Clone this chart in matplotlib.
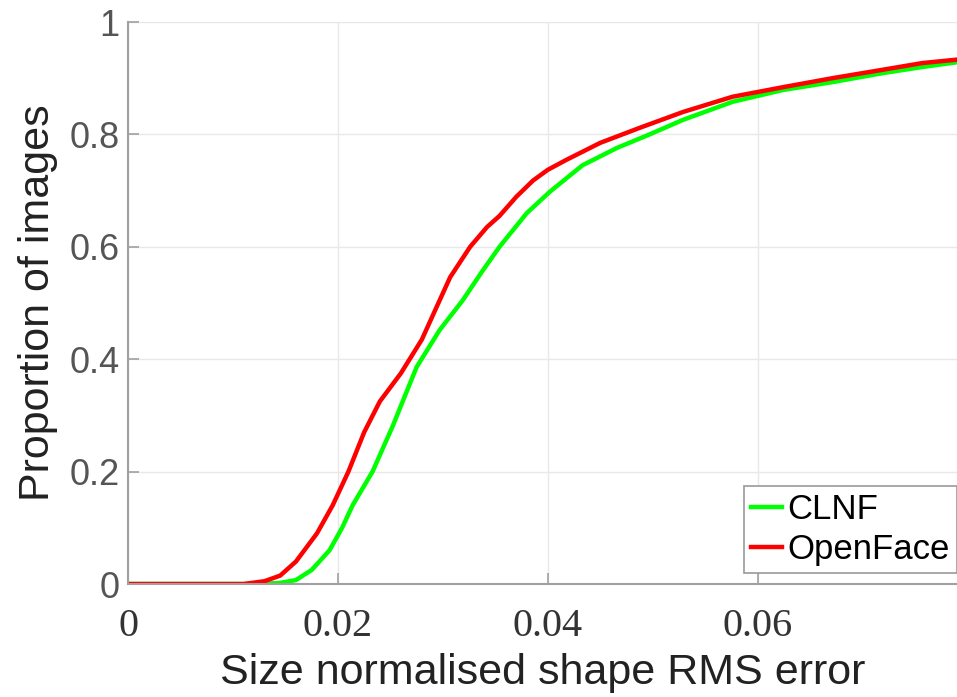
import numpy as np
import matplotlib.pyplot as plt

# error thresholds and cumulative proportion of images
err_clnf = [0.0, 0.0125, 0.0145, 0.016, 0.0175, 0.0192, 0.0204, 0.0214, 0.0233, 0.0252,
            0.0275, 0.0297, 0.0319, 0.0337, 0.0354, 0.038, 0.0402, 0.0433, 0.0466, 0.0497,
            0.0529, 0.0576, 0.0624, 0.0671, 0.0719, 0.0757, 0.080]
prop_clnf = [0.0, 0.0, 0.002, 0.007, 0.025, 0.06, 0.1, 0.14, 0.2, 0.28,
             0.386, 0.452, 0.505, 0.555, 0.60, 0.66, 0.698, 0.745, 0.776, 0.80,
             0.826, 0.858, 0.879, 0.893, 0.909, 0.92, 0.931]

err_of = [0.0, 0.011, 0.013, 0.0145, 0.016, 0.018, 0.0195, 0.021, 0.0225, 0.024,
          0.026, 0.028, 0.0297, 0.0307, 0.0326, 0.0342, 0.0354, 0.037, 0.0386, 0.040,
          0.0418, 0.045, 0.0488, 0.0529, 0.0576, 0.0624, 0.0671, 0.0719, 0.0757, 0.080]
prop_of = [0.0, 0.0, 0.005, 0.015, 0.04, 0.09, 0.14, 0.2, 0.27, 0.325,
           0.375, 0.435, 0.505, 0.546, 0.60, 0.635, 0.655, 0.689, 0.718, 0.737,
           0.755, 0.785, 0.812, 0.84, 0.867, 0.884, 0.90, 0.915, 0.927, 0.935]

xticks = [0, 0.02, 0.04, 0.06]
xtick_labels = ["0", "0.02", "0.04", "0.06"]
yticks = [0, 0.2, 0.4, 0.6, 0.8, 1]
ytick_labels = ["0", "0.2", "0.4", "0.6", "0.8", "1"]

fig = plt.figure(figsize=(9.57, 6.97), dpi=100)
ax = fig.add_axes([0.1338, 0.1621, 0.8662, 0.8063])

ax.plot(err_clnf, prop_clnf, color="#00ff00", lw=3.2, label="CLNF")
ax.plot(err_of, prop_of, color="#ff0000", lw=3.2, label="OpenFace")

ax.set_xlim(0, 0.079)
ax.set_ylim(0, 1)
ax.set_xticks(xticks)
ax.set_xticklabels(xtick_labels)
ax.set_yticks(yticks)
ax.set_yticklabels(ytick_labels)

ax.grid(True, color="#e8e8e8", lw=1)
ax.set_axisbelow(True)
for s in ["top", "right"]:
    ax.spines[s].set_visible(False)
for s in ["left", "bottom"]:
    ax.spines[s].set_color("#a0a0a0")
    ax.spines[s].set_linewidth(1.5)

ax.tick_params(axis="both", direction="in", length=8, color="#a0a0a0", width=1.2)
ax.tick_params(axis="x", labelsize=29, labelcolor="#333333", pad=17,
               labelfontfamily="Liberation Serif")
ax.tick_params(axis="y", labelsize=26, labelcolor="#555555", pad=6,
               labelfontfamily="Liberation Sans")

ax.set_xlabel("Size normalised shape RMS error", fontsize=31, family="Liberation Sans",
              color="#222222", labelpad=6)
ax.set_ylabel("Proportion of images", fontsize=31, family="Liberation Sans",
              color="#222222", labelpad=8)

leg = ax.legend(loc="lower right", bbox_to_anchor=(1.0, 0.178),
                bbox_transform=fig.transFigure, borderaxespad=0,
                prop={"family": "Liberation Sans", "size": 25},
                handlelength=0.9, handletextpad=0.15, borderpad=0.2,
                labelspacing=0.2, fancybox=False, framealpha=1)
leg.get_frame().set_edgecolor("#999999")
leg.get_frame().set_linewidth(1.2)

fig.savefig("out.png", dpi=100)
